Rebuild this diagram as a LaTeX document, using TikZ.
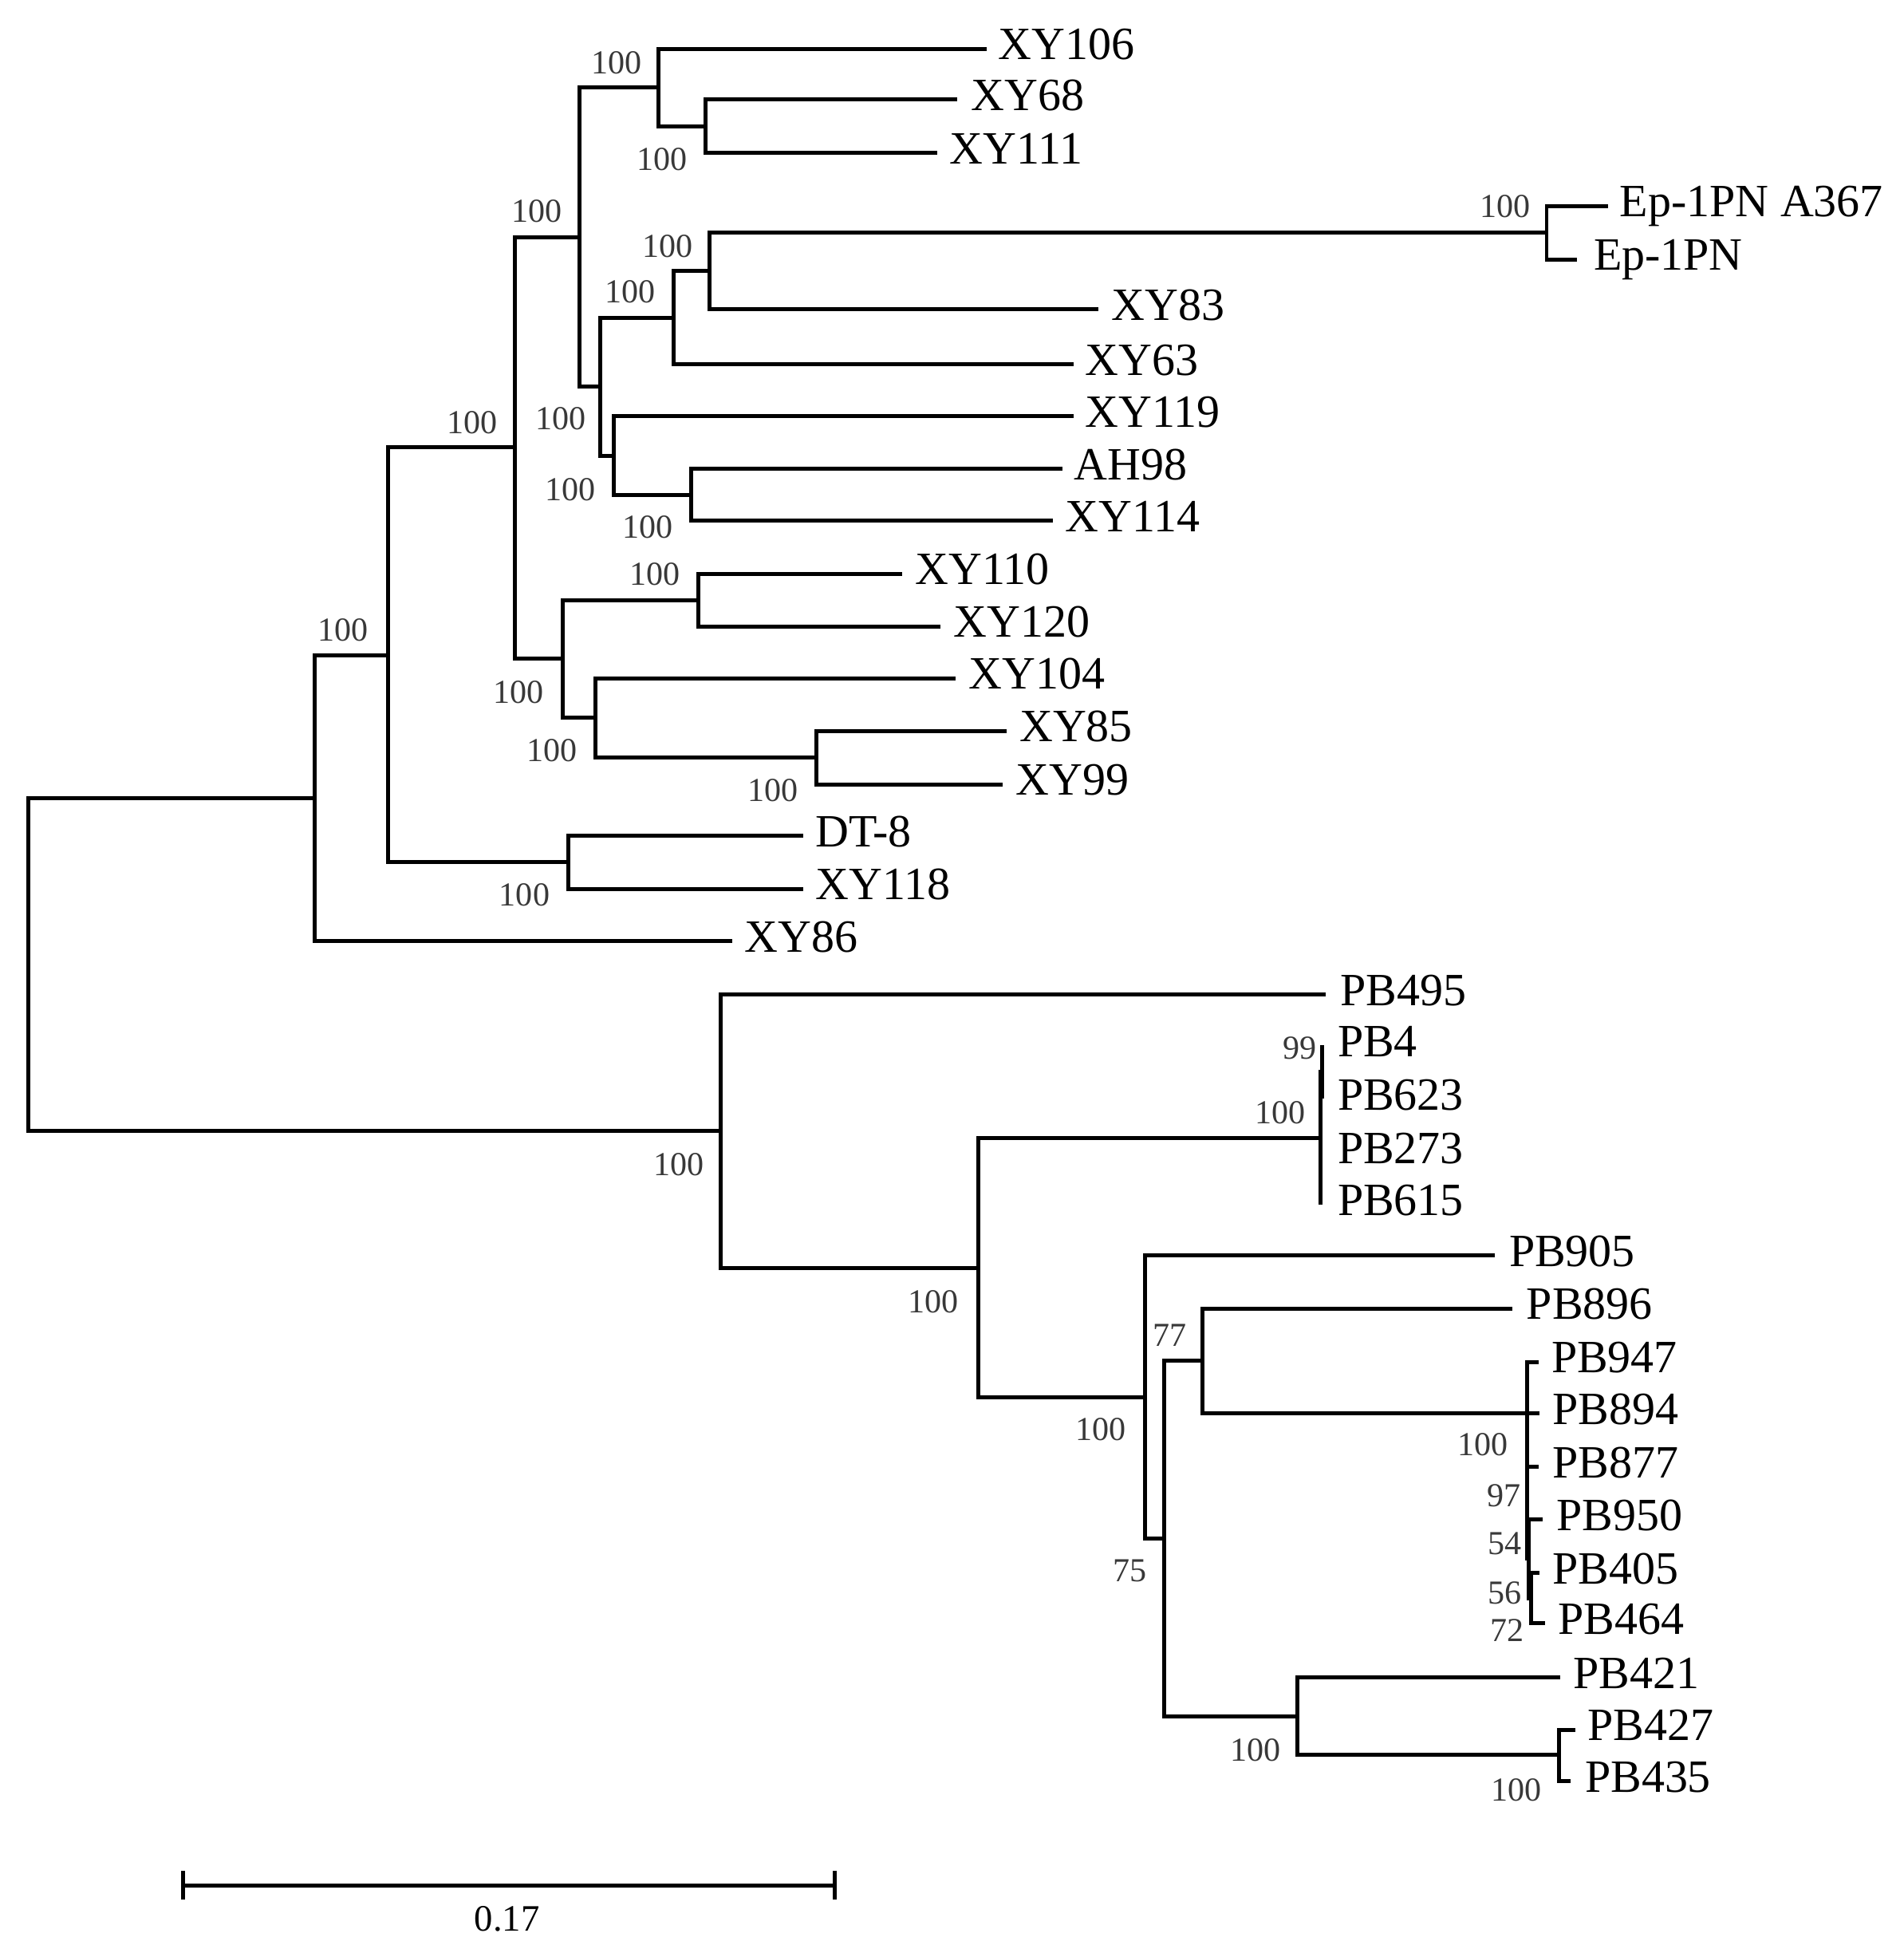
\documentclass[tikz,border=0pt]{standalone}
\usepackage{fontspec}
\setmainfont{Liberation Serif}
\newcommand\leafnode[5]{%
  \coordinate (l#1) at (#2,#3);
  \node[lab] (t#1) at ({#4},{#3+8.8}) {#5};}
\newcommand\bsnode[4]{\node[bsv] (b#1) at (#2,#3) {#4};}
\begin{document}
\begin{tikzpicture}[x=0.5pt,y=-0.5pt,
  br/.style={line width=1.6pt},
  lab/.style={anchor=base west, inner sep=0pt, font=\fontsize{18.6}{20}\selectfont},
  bsv/.style={inner sep=0pt, text=black!78, font=\fontsize{13.5}{15}\selectfont}]
\useasboundingbox (0,0) rectangle (1532,1568);
% internal nodes
\coordinate (root) at (23,776);
\coordinate (n253) at (253,642);
\coordinate (n312) at (312,527);
\coordinate (n414) at (414,360);
\coordinate (n467) at (466,190.7);
\coordinate (n529) at (529.6,70.4);
\coordinate (n568) at (568,101.6);
\coordinate (n484) at (483,311);
\coordinate (n541) at (542,255.5);
\coordinate (n571) at (571,218);
\coordinate (nEp) at (1244.5,187);
\coordinate (n494) at (494,366.5);
\coordinate (n556) at (556,398);
\coordinate (n453) at (453,530);
\coordinate (n562) at (562,482.75);
\coordinate (n479) at (479,577.5);
\coordinate (n657) at (657,609.5);
\coordinate (n457) at (457,693.8);
\coordinate (n580) at (580,910);
\coordinate (n787) at (787,1020);
\coordinate (nP4) at (1062.5,915.7);
\coordinate (nP4s) at (1064,862.5);
\coordinate (n921) at (921.5,1124);
\coordinate (n937) at (936.7,1238);
\coordinate (n968) at (967.5,1094.8);
\coordinate (nC1) at (1228.5,1137);
\coordinate (nC2) at (1230.3,1254);
\coordinate (nC3) at (1232,1286);
\coordinate (n1043) at (1044,1381);
\coordinate (n1255) at (1254.7,1412);
% leaves
\leafnode{XY106}{794}{39.2}{803}{XY106}
\leafnode{XY68}{770}{80.2}{781}{XY68}
\leafnode{XY111}{754}{123}{764}{XY111}
\leafnode{EpA}{1294}{165.7}{1303}{Ep-1PN A367}
\leafnode{Ep}{1269}{208.6}{1282}{Ep-1PN}
\leafnode{XY83}{884}{249}{894}{XY83}
\leafnode{XY63}{864}{293}{873}{XY63}
\leafnode{XY119}{864}{335}{873}{XY119}
\leafnode{AH98}{855}{377}{864}{AH98}
\leafnode{XY114}{847}{419}{857}{XY114}
\leafnode{XY110}{726}{461.5}{736}{XY110}
\leafnode{XY120}{757}{504}{767}{XY120}
\leafnode{XY104}{769}{545.6}{779}{XY104}
\leafnode{XY85}{810}{588}{820}{XY85}
\leafnode{XY99}{807}{631}{817}{XY99}
\leafnode{DT8}{646}{672.6}{656}{DT-8}
\leafnode{XY118}{646}{715}{656}{XY118}
\leafnode{XY86}{589}{757}{599}{XY86}
\leafnode{PB495}{1067}{800}{1078}{PB495}
\leafnode{PB4}{1064}{841}{1076}{PB4}
\leafnode{PB623}{1064}{884}{1076}{PB623}
\leafnode{PB273}{1062.5}{927}{1076}{PB273}
\leafnode{PB615}{1062.5}{969}{1076}{PB615}
\leafnode{PB905}{1203}{1010}{1214}{PB905}
\leafnode{PB896}{1217}{1052.6}{1228}{PB896}
\leafnode{PB947}{1238}{1095.7}{1248}{PB947}
\leafnode{PB894}{1239}{1137}{1249}{PB894}
\leafnode{PB877}{1238}{1180}{1249}{PB877}
\leafnode{PB950}{1241}{1222.6}{1252}{PB950}
\leafnode{PB405}{1239}{1265.6}{1249}{PB405}
\leafnode{PB464}{1243}{1306}{1253.5}{PB464}
\leafnode{PB421}{1255.5}{1349.6}{1265.5}{PB421}
\leafnode{PB427}{1267.6}{1391.5}{1277}{PB427}
\leafnode{PB435}{1264}{1433}{1275}{PB435}
% branches
\foreach \a/\b in {root/n253, root/n580,
  n253/n312, n253/lXY86,
  n312/n414, n312/n457,
  n414/n467, n414/n453,
  n467/n529, n467/n484,
  n529/lXY106, n529/n568,
  n568/lXY68, n568/lXY111,
  n484/n541, n484/n494,
  n541/n571, n541/lXY63,
  n571/nEp, n571/lXY83,
  nEp/lEpA, nEp/lEp,
  n494/lXY119, n494/n556,
  n556/lAH98, n556/lXY114,
  n453/n562, n453/n479,
  n562/lXY110, n562/lXY120,
  n479/lXY104, n479/n657,
  n657/lXY85, n657/lXY99,
  n457/lDT8, n457/lXY118,
  n580/lPB495, n580/n787,
  n787/nP4, n787/n921,
  nP4/nP4s, nP4/lPB273, nP4/lPB615,
  nP4s/lPB4, nP4s/lPB623,
  n921/lPB905, n921/n937,
  n937/n968, n937/n1043,
  n968/lPB896, n968/nC1,
  nC1/lPB947, nC1/lPB894, nC1/lPB877, nC1/nC2,
  nC2/lPB950, nC2/nC3,
  nC3/lPB405, nC3/lPB464,
  n1043/lPB421, n1043/n1255,
  n1255/lPB427, n1255/lPB435}
  \draw[br] (\a) |- (\b);
% bootstrap values
\bsnode{529}{496}{50.5}{100}
\bsnode{568}{533}{128.5}{100}
\bsnode{467}{432}{170}{100}
\bsnode{571}{537}{198}{100}
\bsnode{541}{507}{235}{100}
\bsnode{484}{451}{337}{100}
\bsnode{414}{380}{340}{100}
\bsnode{494}{459}{394}{100}
\bsnode{556}{521}{424}{100}
\bsnode{562}{527}{462}{100}
\bsnode{312}{276}{507}{100}
\bsnode{453}{417}{557}{100}
\bsnode{479}{444}{604}{100}
\bsnode{657}{622}{636}{100}
\bsnode{457}{422}{720}{100}
\bsnode{Ep}{1211}{166}{100}
\bsnode{P4s}{1046}{843}{99}
\bsnode{P4}{1030}{895}{100}
\bsnode{580}{546}{937}{100}
\bsnode{787}{751}{1047}{100}
\bsnode{968}{941}{1074}{77}
\bsnode{921}{886}{1150}{100}
\bsnode{C1}{1193}{1162}{100}
\bsnode{C97}{1210}{1203}{97}
\bsnode{C54}{1211}{1242}{54}
\bsnode{C56}{1211}{1281.5}{56}
\bsnode{C72}{1213}{1311.5}{72}
\bsnode{937}{909}{1264}{75}
\bsnode{1043}{1010}{1408}{100}
\bsnode{1255}{1220}{1440}{100}
% scale bar
\coordinate (sbL) at (147.5,1517);
\coordinate (sbR) at (671.5,1517);
\coordinate (sbLt) at (147.5,1505);
\coordinate (sbLb) at (147.5,1528);
\coordinate (sbRt) at (671.5,1505);
\coordinate (sbRb) at (671.5,1528);
\draw[br] (sbL) -- (sbR);
\draw[br] (sbLt) -- (sbLb);
\draw[br] (sbRt) -- (sbRb);
\node[inner sep=0pt, font=\fontsize{15}{17}\selectfont] (sbtext) at (408,1544) {0.17};
\end{tikzpicture}
\end{document}
